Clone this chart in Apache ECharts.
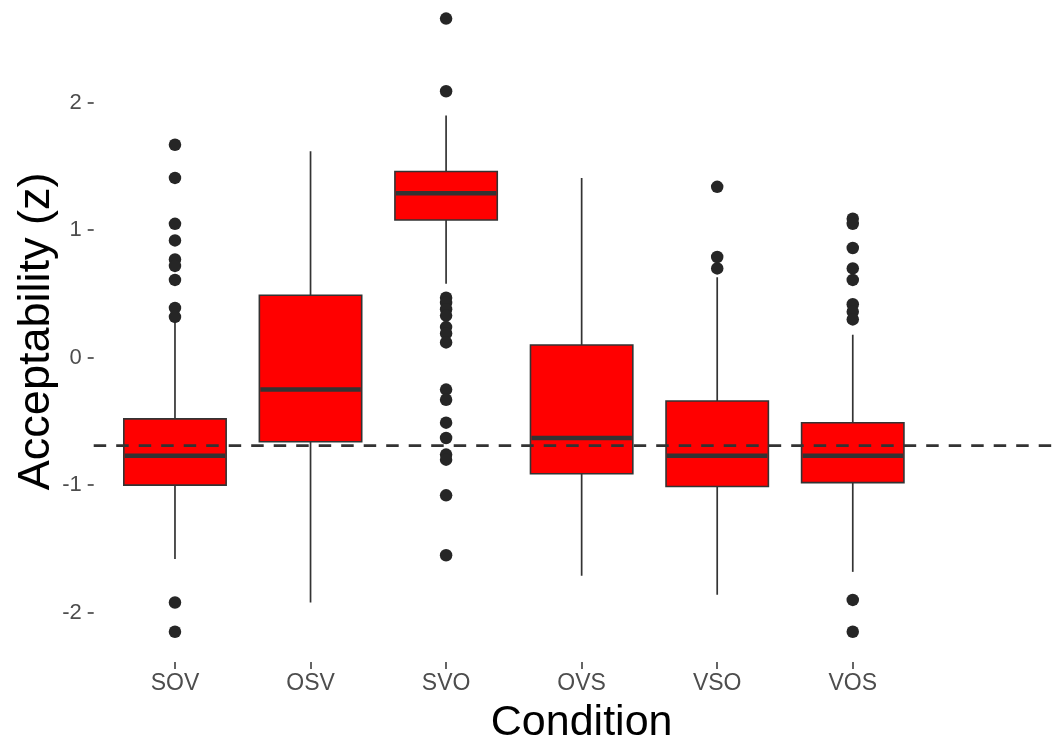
<!DOCTYPE html>
<html>
<head>
<meta charset="utf-8">
<script src="https://cdn.jsdelivr.net/npm/echarts@6/dist/echarts.min.js"></script>
<style>
  html, body { margin: 0; padding: 0; background: #ffffff; }
  #chart { width: 1055px; height: 740px; }
</style>
</head>
<body>
<div id="chart"></div>
<script>
// ---- data ----
const categories = ['SOV', 'OSV', 'SVO', 'OVS', 'VSO', 'VOS'];
const whiskerLow  = [-1.58, -1.92, 0.58, -1.71, -1.86, -1.68];
const q1          = [-1.00, -0.66, 1.08, -0.91, -1.01, -0.98];
const median      = [-0.77, -0.25, 1.29, -0.63, -0.77, -0.77];
const q3          = [-0.48,  0.49, 1.46,  0.10, -0.34, -0.51];
const whiskerHigh = [ 0.28,  1.62, 1.90,  1.41,  0.63,  0.18];
const outliersSOV = [1.67, 1.41, 1.05, 0.92, 0.77, 0.72, 0.61, 0.39, 0.32, -1.92, -2.15];
const outliersOSV = [];
const outliersSVO = [2.66, 2.09, 0.47, 0.43, 0.38, 0.33, 0.24, 0.19, 0.12, -0.25, -0.33, -0.51, -0.63, -0.76, -0.80, -1.08, -1.55];
const outliersOVS = [];
const outliersVSO = [1.34, 0.79, 0.70];
const outliersVOS = [1.09, 1.05, 0.86, 0.70, 0.61, 0.42, 0.36, 0.30, -1.90, -2.15];
const referenceLine = -0.69;
const yTickValues = [-2, -1, 0, 1, 2];

// ---- build options ----
const outlierLists = [outliersSOV, outliersOSV, outliersSVO, outliersOVS, outliersVSO, outliersVOS];
const boxData = categories.map((c, i) => [i, whiskerLow[i], q1[i], median[i], q3[i], whiskerHigh[i]]);
const outlierData = [];
outlierLists.forEach((list, i) => list.forEach(v => outlierData.push([i, v])));

const Y_MIN = -2.387, Y_MAX = 2.8;
const GRID_TOP = 0.7, GRID_H = 661.3;
const FONT = '"Liberation Sans", Arial, Helvetica, sans-serif';

const chart = echarts.init(document.getElementById('chart'), null, { renderer: 'canvas' });
chart.setOption({
  backgroundColor: '#ffffff',
  animation: false,
  textStyle: { fontFamily: FONT },
  grid: [
    { left: 107.2, width: 948.9, top: GRID_TOP, height: GRID_H, containLabel: false, outerBoundsMode: 'none' },
    { left: 93.7, right: 0, top: GRID_TOP, height: GRID_H, containLabel: false, outerBoundsMode: 'none' }
  ],
  xAxis: [
    {
      type: 'category', gridIndex: 0,
      data: categories.concat(['']),
      boundaryGap: true,
      axisLine: { show: true, onZero: false, lineStyle: { color: 'rgba(0,0,0,0)', width: 0 } },
      axisTick: { show: true, alignWithLabel: true, length: 7,
        interval: (idx) => idx < categories.length,
        lineStyle: { color: '#333333', width: 1.5 } },
      axisLabel: { fontSize: 23, color: '#4d4d4d', margin: 10, interval: 0 },
      splitLine: { show: false },
      name: 'Condition', nameLocation: 'middle', nameGap: 40,
      nameTextStyle: { fontSize: 43, color: '#000000' }
    },
    { type: 'value', gridIndex: 1, min: 0, max: 1, show: false }
  ],
  yAxis: [
    { type: 'value', gridIndex: 0, min: Y_MIN, max: Y_MAX, show: false },
    {
      type: 'value', gridIndex: 1, min: Y_MIN, max: Y_MAX,
      axisLine: { show: false, onZero: false },
      splitLine: { show: false },
      axisTick: { show: true, length: 6, customValues: yTickValues,
        lineStyle: { color: '#333333', width: 1.5 } },
      axisLabel: { fontSize: 22, color: '#4d4d4d', margin: 12, customValues: yTickValues },
      name: 'Acceptability (z)', nameLocation: 'middle', nameGap: 35,
      nameMoveOverlap: false,
      nameTextStyle: { fontSize: 45, color: '#000000' }
    }
  ],
  series: [
    {
      type: 'custom', xAxisIndex: 0, yAxisIndex: 0,
      data: boxData,
      encode: { x: 0, y: [1, 2, 3, 4, 5] },
      z: 2,
      renderItem: function (params, api) {
        const x = api.value(0);
        const pLo = api.coord([x, api.value(1)]);
        const pQ1 = api.coord([x, api.value(2)]);
        const pMed = api.coord([x, api.value(3)]);
        const pQ3 = api.coord([x, api.value(4)]);
        const pHi = api.coord([x, api.value(5)]);
        const band = api.size([1, 0])[0];
        const w = band * 0.755;
        const cx = pMed[0];
        return {
          type: 'group',
          children: [
            { type: 'line', shape: { x1: cx, y1: pLo[1], x2: cx, y2: pHi[1] },
              style: { stroke: '#333333', lineWidth: 1.7 } },
            { type: 'rect', shape: { x: cx - w / 2, y: pQ3[1], width: w, height: pQ1[1] - pQ3[1] },
              style: { fill: '#ff0000', stroke: '#333333', lineWidth: 1.6 } },
            { type: 'line', shape: { x1: cx - w / 2 + 1, y1: pMed[1], x2: cx + w / 2 - 1, y2: pMed[1] },
              style: { stroke: '#333333', lineWidth: 4.5 } }
          ]
        };
      }
    },
    {
      type: 'scatter', xAxisIndex: 0, yAxisIndex: 0,
      data: outlierData,
      symbol: 'circle', symbolSize: 12.5,
      itemStyle: { color: '#262626', opacity: 1 },
      z: 3, silent: true
    },
    {
      type: 'line', xAxisIndex: 1, yAxisIndex: 1,
      data: [[0, referenceLine], [1, referenceLine]],
      symbol: 'none', silent: true, z: 4,
      lineStyle: { color: '#333333', width: 2.6, type: [12.5, 10] }
    }
  ]
});
</script>
</body>
</html>
